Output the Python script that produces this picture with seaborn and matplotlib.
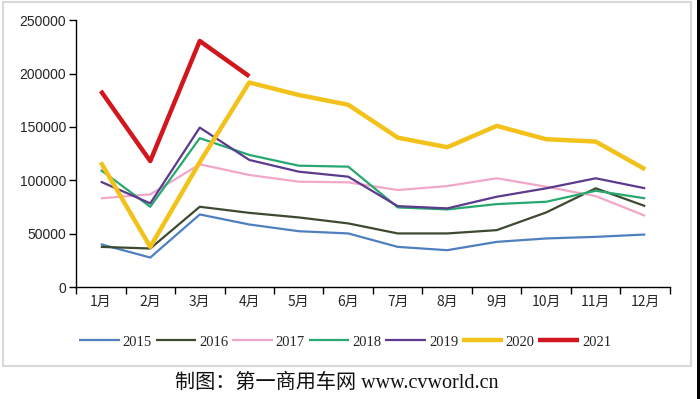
import numpy as np
import pandas as pd
import matplotlib
matplotlib.use("Agg")
import matplotlib.pyplot as plt
import seaborn as sns
from matplotlib.patches import Rectangle

sns.set_theme(style="white")
plt.rcParams['font.family'] = ['Noto Sans CJK SC', 'DejaVu Sans']

months = ['1月', '2月', '3月', '4月', '5月', '6月', '7月', '8月', '9月', '10月', '11月', '12月']
years = ['2015', '2016', '2017', '2018', '2019', '2020', '2021']

sales_2015 = [40100, 27600, 68000, 58600, 52300, 50200, 37600, 34500, 42300, 45500, 47000, 49200]
sales_2016 = [37600, 36100, 75200, 69500, 65200, 59600, 50200, 50200, 53300, 69900, 92500, 75800]
sales_2017 = [83100, 86800, 115000, 105000, 98700, 98100, 90900, 94600, 101900, 94000, 85200, 66700]
sales_2018 = [109700, 75200, 139500, 123800, 113700, 112800, 74600, 72700, 77700, 79900, 90200, 83100]
sales_2019 = [98700, 78400, 149400, 119100, 108100, 103400, 75800, 73700, 84600, 92500, 101900, 92500]
sales_2020 = [116900, 37600, 117000, 191700, 180000, 170800, 140000, 131000, 151000, 138500, 136300, 110300]
sales_2021 = [183800, 118000, 230600, 197500]

colors = ['#4f7fbf', '#3d4a30', '#f2a7c9', '#27a86e', '#5c3a8e', '#f2c21b', '#d2161e']
widths = [1.6, 1.6, 1.6, 1.6, 1.6, 3.2, 3.2]

series = [sales_2015, sales_2016, sales_2017, sales_2018, sales_2019, sales_2020, sales_2021]
rows = []
for yr, vals in zip(years, series):
    for i, v in enumerate(vals):
        rows.append({'month': i, 'year': yr, 'sales': v})
df = pd.DataFrame(rows)

fig = plt.figure(figsize=(7, 3.99), dpi=100)
ax = fig.add_axes([0.1086, 0.2807, 0.8485, 0.6685])

for yr, c, lw in zip(years, colors, widths):
    sub = df[df['year'] == yr]
    sns.lineplot(data=sub, x='month', y='sales', ax=ax, color=c, linewidth=lw,
                 label=yr, solid_capstyle='butt')

ax.set_xlim(-0.5, 11.5)
ax.set_ylim(0, 250000)
ax.set_yticks(np.arange(0, 250001, 50000))
ax.set_yticklabels([str(v) for v in range(0, 250001, 50000)], fontsize=10,
                   family=['Liberation Sans', 'DejaVu Sans'])
ax.set_xticks(np.arange(-0.5, 12, 1))
ax.set_xticklabels([])
ax.set_xticks(np.arange(12), minor=True)
ax.set_xticklabels(months, minor=True, fontsize=10)
ax.tick_params(axis='x', which='major', direction='out', length=5, width=1, color='black', bottom=True)
ax.tick_params(axis='x', which='minor', length=0, pad=6)
ax.tick_params(axis='y', direction='out', length=5, width=1, color='black', left=True, pad=2)
ax.set_xlabel('')
ax.set_ylabel('')
for s in ['top', 'right']:
    ax.spines[s].set_visible(False)
for s in ['left', 'bottom']:
    ax.spines[s].set_color('black')
    ax.spines[s].set_linewidth(1)

leg = ax.legend(loc='center', ncol=7, frameon=False,
                handlelength=2.8, handletextpad=0.2, columnspacing=0.25,
                prop={'family': ['Liberation Serif', 'DejaVu Serif'], 'size': 10.5})
leg.set_bbox_to_anchor((345 / 700, 1 - 342 / 399), transform=fig.transFigure)

fig.patches.append(Rectangle((3 / 700, 1 - 366 / 399), 688 / 700, 364 / 399,
                             transform=fig.transFigure, fill=False,
                             edgecolor='#d9d9d9', linewidth=1.5))
fig.patches.append(Rectangle((697 / 700, 0), 3 / 700, 1, transform=fig.transFigure,
                             facecolor='black', edgecolor='none'))

fig.text(337 / 700, 1 - 383 / 399, '制图：第一商用车网 www.cvworld.cn', ha='center', va='center',
         fontsize=14.5, color='#111111', family=['Liberation Serif', 'Noto Sans CJK SC'])

fig.savefig('out.png', dpi=100)
